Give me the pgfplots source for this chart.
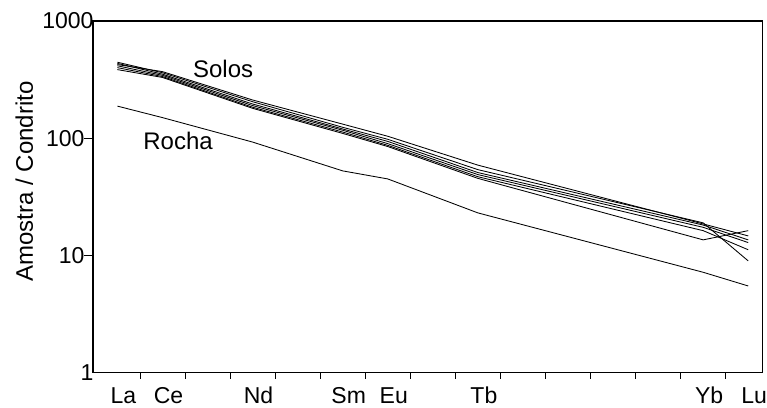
\documentclass[border=0pt]{standalone}
\usepackage{fontspec}
\setmainfont{Liberation Sans}
\usepackage{pgfplots}
\pgfplotsset{compat=1.18}

% REE positions: La=0 Ce=1 Pr=2 Nd=3 Pm=4 Sm=5 Eu=6 Gd=7 Tb=8 ... Yb=13 Lu=14
\begin{document}
\begin{tikzpicture}
\begin{axis}[
  name=ax,
  scale only axis,
  width=670.3pt, height=352pt,
  ymode=log,
  xmin=-0.543, xmax=14.326,
  ymin=1, ymax=1000,
  axis line style={line width=1.1pt},
  tick style={line width=0.8pt, black},
  tick align=outside,
  tick pos=left,
  xtick={0,1,3,5,6,8,13,14},
  xticklabels={La,Ce,Nd,Sm,Eu,Tb,Yb,Lu},
  minor xtick={0.5,1.5,2.5,3.5,4.5,5.5,6.5,7.5,8.5,9.5,10.5,11.5,12.5,13.5},
  major tick length=9pt,
  minor tick length=6pt,
  major x tick style={draw=none},
  x tick label style={anchor=north, inner sep=0pt, text height=16.5pt, text depth=4pt, xshift=6pt, yshift=-5pt},
  ytick={10,100},
  yminorticks=false,
  extra y ticks={1,1000},
  extra y tick style={major tick length=0pt},
  log ticks with fixed point,
  /pgf/number format/1000 sep={},
  y tick label style={xshift=4pt},
  ticklabel style={font=\fontsize{23}{27}\selectfont},
  /pgf/number format/assume math mode=true,
  ylabel={Amostra / Condrito},
  ylabel style={font=\fontsize{24}{28}\selectfont, at={(axis description cs:-0.0895,0.544)}, anchor=base, inner sep=0pt},
  clip=false,
]
% Solos
\addplot[black, line width=0.85pt] coordinates {(0,425) (1,370) (3,212) (5,132) (6,104) (8,59) (13,18.6) (14,14.7)};
\addplot[black, line width=0.85pt] coordinates {(0,445) (1,362) (3,205) (5,124) (6,98) (8,54) (13,19.0) (14,9.0)};
\addplot[black, line width=0.85pt] coordinates {(0,435) (1,352) (3,196) (5,120) (6,94) (8,51) (13,18.2) (14,13.6)};
\addplot[black, line width=0.85pt] coordinates {(0,415) (1,344) (3,190) (5,117) (6,90) (8,49) (13,17.4) (14,12.9)};
\addplot[black, line width=0.85pt] coordinates {(0,400) (1,336) (3,184) (5,113) (6,87) (8,47) (13,16.3) (14,11.2)};
\addplot[black, line width=0.85pt] coordinates {(0,385) (1,330) (3,180) (5,110) (6,85) (8,45.5) (13,13.6) (14,16.3)};
% Rocha
\addplot[black, line width=0.85pt] coordinates {(0,188) (1,150) (3,92.8) (5,52.7) (6,45) (8,23.1) (13,7.2) (14,5.5)};
\node[anchor=base west, inner sep=0pt, font=\fontsize{24}{28}\selectfont] at (axis cs:1.675,330) {Solos};
\node[anchor=base west, inner sep=0pt, font=\fontsize{24}{28}\selectfont] at (axis cs:0.572,80) {Rocha};
\end{axis}
\path ([xshift=-93pt,yshift=-32pt]ax.south west) rectangle ([xshift=3.7pt,yshift=21pt]ax.north east);
\end{tikzpicture}
\end{document}
